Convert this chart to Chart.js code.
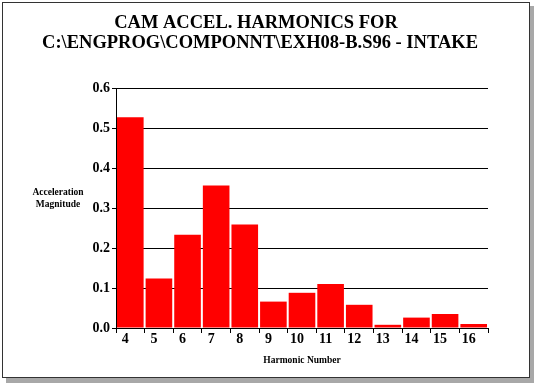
<!DOCTYPE html>
<html>
<head>
<meta charset="utf-8">
<script src="https://cdn.jsdelivr.net/npm/chart.js@4"></script>
<style>
  html, body { margin: 0; padding: 0; background: #fff; }
  #wrap { width: 535px; height: 385px; }
</style>
</head>
<body>
<div id="wrap"><canvas id="harmChart" width="535" height="385"></canvas></div>
<script>
// data
const harmonics = ['4', '5', '6', '7', '8', '9', '10', '11', '12', '13', '14', '15', '16'];
const magnitudes = [0.527, 0.124, 0.233, 0.356, 0.259, 0.066, 0.088, 0.110, 0.058, 0.008, 0.026, 0.035, 0.010];
const titleLines = ['CAM ACCEL. HARMONICS FOR', 'C:\\ENGPROG\\COMPONNT\\EXH08-B.S96 - INTAKE'];
const yLabelLines = ['Acceleration', 'Magnitude'];
const xLabel = 'Harmonic Number';

const serif = '"Liberation Serif", "DejaVu Serif", serif';

// frame, title and axis captions
const decorations = {
    id: 'decorations',
    beforeDraw(chart) {
        const ctx = chart.ctx;
        ctx.save();
        ctx.fillStyle = '#fff';
        ctx.fillRect(0, 0, 535, 385);
        // drop shadow
        ctx.fillStyle = '#a8a8a8';
        ctx.fillRect(6, 378, 528, 5);
        ctx.fillRect(530, 6, 4, 377);
        // border
        ctx.strokeStyle = '#333';
        ctx.lineWidth = 1;
        ctx.strokeRect(2.5, 2.5, 527, 375);
        ctx.restore();
    },
    afterDraw(chart) {
        const ctx = chart.ctx;
        ctx.save();
        ctx.fillStyle = '#000';
        ctx.textAlign = 'center';
        ctx.textBaseline = 'middle';
        ctx.font = 'bold 18.5px ' + serif;
        ctx.fillText(titleLines[0], 256, 23);
        ctx.fillText(titleLines[1], 260, 43);

        ctx.font = 'bold 9.5px ' + serif;
        ctx.fillText(yLabelLines[0], 58, 193);
        ctx.fillText(yLabelLines[1], 58, 205);
        ctx.fillText(xLabel, 302, 361);
        ctx.restore();
    }
};

new Chart(document.getElementById('harmChart'), {
    type: 'bar',
    data: {
        labels: harmonics,
        datasets: [{
            data: magnitudes,
            backgroundColor: '#ff0000',
            borderWidth: 0,
            barPercentage: 0.93,
            categoryPercentage: 1.0
        }]
    },
    options: {
        responsive: false,
        animation: false,
        events: [],
        layout: { padding: { left: 0, top: 88, right: 47, bottom: 0 } },
        plugins: {
            legend: { display: false },
            title: { display: false },
            tooltip: { enabled: false }
        },
        scales: {
            x: {
                afterFit: function (scale) { scale.height = 57; },
                grid: {
                    offset: true,
                    drawOnChartArea: false,
                    drawTicks: true,
                    tickLength: 5,
                    color: '#000'
                },
                border: { color: '#000', width: 1 },
                ticks: {
                    color: '#000',
                    font: { family: serif, size: 14, weight: 'bold' },
                    padding: -2,
                    labelOffset: -5,
                    maxRotation: 0,
                    autoSkip: false
                }
            },
            y: {
                min: 0,
                max: 0.6,
                afterFit: function (scale) { scale.width = 116; },
                grid: {
                    color: '#000',
                    tickLength: 4
                },
                border: { color: '#000', width: 1 },
                ticks: {
                    stepSize: 0.1,
                    color: '#000',
                    font: { family: serif, size: 14, weight: 'bold' },
                    padding: 2,
                    callback: function (v) { return v.toFixed(1); }
                }
            }
        }
    },
    plugins: [decorations]
});
</script>
</body>
</html>
